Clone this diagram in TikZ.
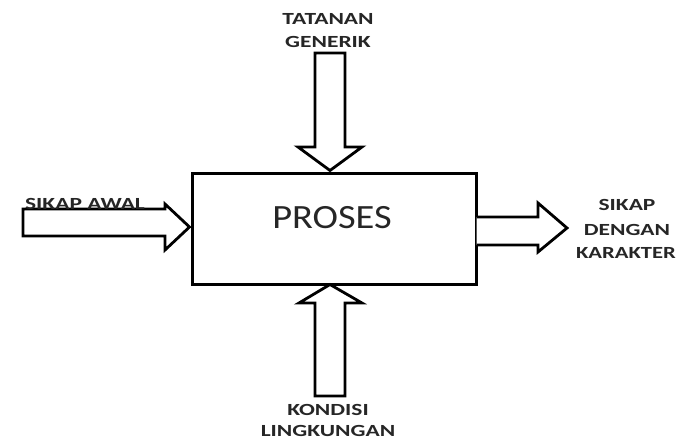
\documentclass[tikz,border=0pt]{standalone}
\usepackage{fontspec}
\setmainfont{Carlito}
\begin{document}
\begin{tikzpicture}[x=1pt,y=-1pt,
  lbl/.style={inner sep=0pt,font=\fontsize{17}{17}\selectfont\bfseries,text=black!85},
  blk/.style={draw=black,line width=2.8pt,fill=white,line join=miter}]
\useasboundingbox (0,0) rectangle (678,442);
% main box
\node[draw=black,line width=3pt,minimum width=284pt,minimum height=111pt,inner sep=0pt,anchor=north west] (box) at (191,172) {};
\node[inner sep=0pt,font=\fontsize{34}{34}\selectfont,text=black!85] (proses) at (332,218) {\scalebox{1.13}[1]{PROSES}};
% top arrow
\draw[blk] (315,53) -- (345,53) -- (345,147) -- (362,147) -- (330,170.5) -- (298,147) -- (315,147) -- cycle;
% bottom arrow
\draw[blk] (315,396) -- (345,396) -- (345,303) -- (362,303) -- (330,284.5) -- (299,303) -- (315,303) -- cycle;
% left arrow
\draw[blk] (23,209) -- (165,209) -- (165,204) -- (189.5,227) -- (165,250) -- (165,236) -- (23,236) -- cycle;
% right arrow
\draw[blk] (476.5,217) -- (538,217) -- (538,203) -- (567,228) -- (538,252) -- (538,245) -- (476.5,245);
% labels
\node[lbl] (t1) at (328,19) {\scalebox{1.38}[1]{TATANAN}};
\node[lbl] (t2) at (328,42) {\scalebox{1.38}[1]{GENERIK}};
\node[lbl] (l1) at (85,204) {\scalebox{1.38}[1]{SIKAP AWAL}};
\node[lbl] (r1) at (627,205) {\scalebox{1.38}[1]{SIKAP}};
\node[lbl] (r2) at (627,230) {\scalebox{1.38}[1]{DENGAN}};
\node[lbl] (r3) at (626,253) {\scalebox{1.33}[1]{KARAKTER}};
\node[lbl] (b1) at (328,410) {\scalebox{1.38}[1]{KONDISI}};
\node[lbl] (b2) at (328,431) {\scalebox{1.38}[1]{LINGKUNGAN}};
\end{tikzpicture}
\end{document}
